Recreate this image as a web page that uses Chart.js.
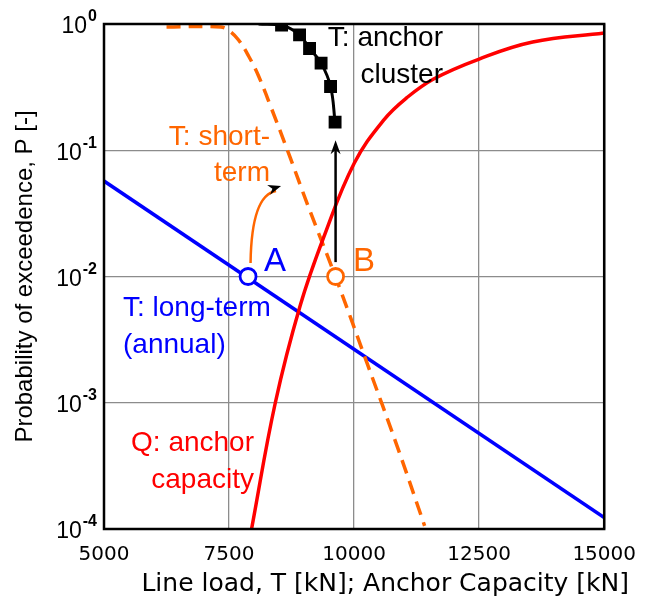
<!DOCTYPE html>
<html>
<head>
<meta charset="utf-8">
<script src="https://cdn.jsdelivr.net/npm/chart.js@4/dist/chart.umd.min.js"></script>
<style>
  html, body { margin: 0; padding: 0; background: #fff; }
  #wrap { width: 650px; height: 598px; }
</style>
</head>
<body>
<div id="wrap"><canvas id="chart"></canvas></div>
<script>
// axis ticks
const loadTicks = [5000, 7500, 10000, 12500, 15000];
const probExponents = [0, -1, -2, -3, -4];

// T: long-term (annual)
const longTermT = [5000, 15000];
const longTermP = [0.057, 0.000123];

// T: short-term
const shortTermT = [6250, 7335, 7510, 7690, 7890, 8090, 8345, 8680, 9080, 9630, 10265, 10860, 11410];
const shortTermP = [0.947, 0.947, 0.88, 0.747, 0.558, 0.387, 0.216, 0.097, 0.0362, 0.0099, 0.00203, 0.000454, 0.000106];

// Q: anchor capacity
const capacityQ = [7950, 8425, 8920, 9395, 10005, 10600, 11055, 11590, 12500, 13570, 15000];
const capacityP = [0.0001, 0.001, 0.00584, 0.0206, 0.0792, 0.175, 0.261, 0.367, 0.528, 0.72, 0.849];

// T: anchor cluster
const clusterT = [8090, 8550, 8910, 9110, 9340, 9530, 9620];
const clusterP = [1.0, 0.98, 0.82, 0.64, 0.49, 0.32, 0.167];

// points A and B
const markerT = [7880, 9630];
const markerP = [0.01, 0.01];

const pts = (xs, ys) => xs.map((x, i) => ({ x: x, y: ys[i] }));

const SANS = '"Liberation Sans", Arial, sans-serif';
const VERD = '"DejaVu Sans", Verdana, sans-serif';

function arrowHead(ctx, x, y, ang, len, half) {
  ctx.save();
  ctx.translate(x, y);
  ctx.rotate(ang);
  ctx.beginPath();
  ctx.moveTo(0, 0);
  ctx.lineTo(-len, -half);
  ctx.lineTo(-len * 0.7, 0);
  ctx.lineTo(-len, half);
  ctx.closePath();
  ctx.fillStyle = '#000';
  ctx.fill();
  ctx.restore();
}

const decor = {
  id: 'decor',
  afterDatasetsDraw(chart) {
    const { ctx, chartArea: a, scales: { x, y } } = chart;
    const px = v => x.getPixelForValue(v);
    const py = v => y.getPixelForValue(v);

    // frame
    ctx.save();
    ctx.strokeStyle = '#000';
    ctx.lineWidth = 2.5;
    ctx.strokeRect(a.left, a.top, a.right - a.left, a.bottom - a.top);

    // y tick labels 10^n
    ctx.fillStyle = '#000';
    ctx.textBaseline = 'middle';
    ctx.textAlign = 'left';
    probExponents.forEach(e => {
      const yy = py(Math.pow(10, e));
      const ex = e === 0 ? '0' : '-' + Math.abs(e);
      ctx.font = 'bold 16px ' + SANS;
      const ew = ctx.measureText(ex).width;
      ctx.font = '23px ' + SANS;
      const bw = ctx.measureText('10').width;
      const right = a.left - 7;
      ctx.fillText('10', right - ew - bw - 1, yy + 3);
      ctx.font = 'bold 16px ' + SANS;
      ctx.fillText(ex, right - ew, yy - 7);
    });

    // axis titles
    ctx.font = '24px ' + SANS;
    ctx.textAlign = 'center';
    ctx.save();
    ctx.translate(25, (a.top + a.bottom) / 2);
    ctx.rotate(-Math.PI / 2);
    ctx.fillText('Probability of exceedence, P [-]', 0, 0);
    ctx.restore();
    ctx.font = '25px ' + VERD;
    ctx.textAlign = 'right';
    ctx.fillText('Line load, T [kN]; Anchor Capacity [kN]', 629, 584);

    // arrows
    ctx.strokeStyle = '#000';
    ctx.lineWidth = 2.5;
    const bx = px(9630), by0 = py(0.013), by1 = py(0.12);
    ctx.beginPath();
    ctx.moveTo(bx, by0);
    ctx.lineTo(bx, by1 + 8);
    ctx.stroke();
    arrowHead(ctx, bx, by1, -Math.PI / 2, 14, 5);

    const ax0 = px(7930), ay0 = py(0.0128);
    const ax1 = px(8540), ay1 = py(0.052);
    const cx = ax0 + 1, cy = ay1 + 9;
    ctx.strokeStyle = '#ff6600';
    ctx.lineWidth = 2.5;
    ctx.beginPath();
    ctx.moveTo(ax0, ay0);
    ctx.quadraticCurveTo(cx, cy, ax1 - 5, ay1 + 5);
    ctx.stroke();
    arrowHead(ctx, ax1, ay1, Math.atan2(ay1 - cy, ax1 - cx), 13, 5);

    // text labels
    const labels = [
      { t: 'T: anchor', x: 443, y: 38, c: '#000', al: 'right', f: 28 },
      { t: 'cluster', x: 443, y: 75, c: '#000', al: 'right', f: 28 },
      { t: 'T: short-', x: 270, y: 137, c: '#ff6600', al: 'right', f: 28 },
      { t: 'term', x: 270, y: 173, c: '#ff6600', al: 'right', f: 28 },
      { t: 'T: long-term', x: 123, y: 308, c: '#0000ff', al: 'left', f: 28 },
      { t: '(annual)', x: 123, y: 345, c: '#0000ff', al: 'left', f: 28 },
      { t: 'Q: anchor', x: 254, y: 443, c: '#ff0000', al: 'right', f: 28 },
      { t: 'capacity', x: 254, y: 480, c: '#ff0000', al: 'right', f: 28 },
      { t: 'A', x: 264, y: 262, c: '#0000ff', al: 'left', f: 33 },
      { t: 'B', x: 353, y: 262, c: '#ff6600', al: 'left', f: 33 }
    ];
    labels.forEach(l => {
      ctx.font = l.f + 'px ' + SANS;
      ctx.fillStyle = l.c;
      ctx.textAlign = l.al;
      ctx.textBaseline = 'middle';
      ctx.fillText(l.t, l.x, l.y);
    });
    ctx.restore();
  }
};

new Chart(document.getElementById('chart'), {
  type: 'line',
  data: {
    datasets: [
      {
        label: 'Q: anchor capacity',
        data: pts(capacityQ, capacityP),
        borderColor: '#ff0000',
        borderWidth: 3.5,
        pointRadius: 0,
        tension: 0.4
      },
      {
        label: 'T: short-term',
        data: pts(shortTermT, shortTermP),
        borderColor: '#ff6600',
        borderWidth: 3.5,
        borderDash: [14, 8],
        pointRadius: 0,
        tension: 0.4
      },
      {
        label: 'T: long-term (annual)',
        data: pts(longTermT, longTermP),
        borderColor: '#0000ff',
        borderWidth: 3.5,
        pointRadius: 0
      },
      {
        label: 'T: anchor cluster',
        data: pts(clusterT, clusterP),
        borderColor: '#000',
        backgroundColor: '#000',
        borderWidth: 3,
        pointStyle: 'rect',
        pointRadius: ctx => ctx.dataIndex === 0 ? 0 : 7,
        tension: 0.4
      },
      {
        label: 'A / B',
        data: pts(markerT, markerP),
        order: -1,
        showLine: false,
        pointRadius: 8,
        pointBorderWidth: 2.8,
        pointBackgroundColor: '#fff',
        pointBorderColor: ['#0000ff', '#ff6600']
      }
    ]
  },
  options: {
    responsive: true,
    maintainAspectRatio: false,
    animation: false,
    layout: { padding: { top: 24, right: 41, left: 0, bottom: 0 } },
    plugins: { legend: { display: false }, tooltip: { enabled: false } },
    scales: {
      x: {
        type: 'linear',
        min: 5000,
        max: 15000,
        afterBuildTicks: s => { s.ticks = loadTicks.map(v => ({ value: v })); },
        afterFit: s => { s.height = 69; },
        grid: { color: '#8c8c8c', lineWidth: 1.3, drawTicks: false },
        border: { display: false },
        ticks: {
          padding: 14,
          color: '#000',
          font: { family: VERD, size: 20 },
          maxRotation: 0,
          callback: v => String(v)
        }
      },
      y: {
        type: 'logarithmic',
        min: 0.0001,
        max: 1,
        afterBuildTicks: s => { s.ticks = probExponents.map(e => ({ value: Math.pow(10, e) })); },
        afterFit: s => { s.width = 104; },
        grid: { color: '#8c8c8c', lineWidth: 1.3, drawTicks: false },
        border: { display: false },
        ticks: { display: false }
      }
    }
  },
  plugins: [decor]
});
</script>
</body>
</html>
